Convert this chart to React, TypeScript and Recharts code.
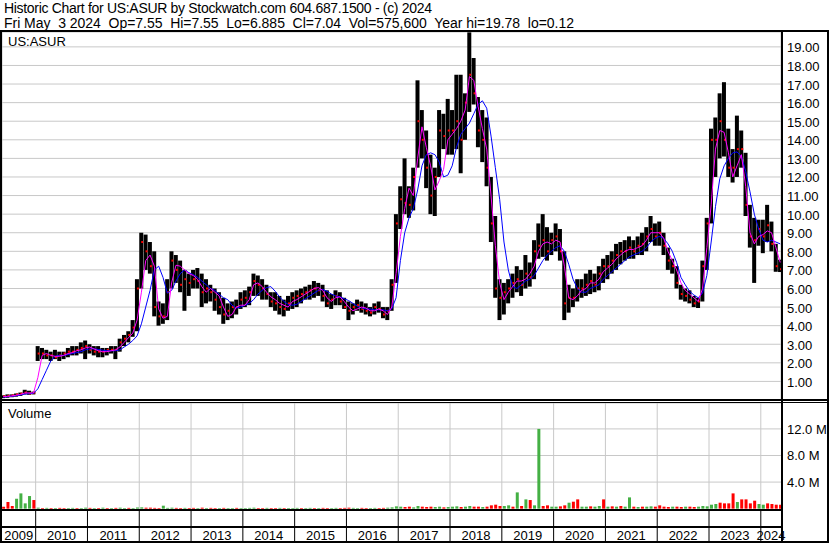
import React from "react";
import { ComposedChart, Bar, Line, XAxis, YAxis, CartesianGrid, Cell } from "recharts";

// monthly bars, first one is May 2009
const START_YEAR = 2009;
const START_MONTH = 4;

const high = [
  0.25, 0.3, 0.3, 0.35, 0.4, 0.55, 0.5, 0.45,
  2.9, 2.8, 2.7, 2.6, 2.7, 2.6, 2.6, 2.8, 2.9, 2.9, 3.1, 3.2,
  3.0, 2.9, 2.9, 2.8, 2.8, 2.9, 2.9, 3.3, 3.5, 3.7, 4.3, 6.5,
  9.0, 8.9, 8.5, 8.0, 5.3, 5.2, 6.5, 8.0, 7.8, 7.5, 7.0, 6.8,
  7.0, 7.1, 6.8, 6.5, 6.2, 6.0, 5.8, 5.5, 5.2, 5.3, 5.4, 5.8,
  5.9, 6.1, 6.8, 6.7, 6.5, 6.2, 5.8, 5.8, 5.6, 5.4, 5.6, 5.8,
  5.9, 6.0, 6.1, 6.2, 6.4, 6.3, 6.2, 5.9, 5.7, 5.9, 5.8, 5.5,
  5.3, 5.2, 5.4, 5.3, 5.2, 5.0, 5.2, 5.3, 5.0, 5.0, 6.5, 10.0,
  11.5, 13.0, 11.5, 12.5, 17.2, 15.6, 14.5, 13.2, 12.5, 15.6, 15.4, 16.2,
  15.6, 17.5, 17.5, 16.5, 19.78, 18.4, 16.3, 15.6, 15.2, 12.0, 9.9, 6.5,
  6.3, 6.5, 6.8, 7.2, 7.0, 7.8, 7.4, 8.6, 9.5, 10.0, 9.3, 9.0,
  9.5, 9.2, 8.0, 6.2, 6.0, 6.5, 6.5, 6.8, 7.0, 6.8, 7.2, 7.6,
  7.8, 8.0, 8.4, 8.5, 8.6, 8.8, 8.6, 8.8, 9.0, 9.3, 9.9, 9.5,
  9.6, 9.0, 8.2, 7.6, 7.2, 6.2, 6.0, 5.9, 5.6, 5.5, 7.5, 9.8,
  14.6, 15.2, 16.5, 17.1, 14.6, 13.5, 15.3, 14.5, 13.3, 10.5, 9.8, 9.7,
  9.7, 10.5, 9.6, 8.4, 7.55,
];

const low = [
  0.1, 0.12, 0.15, 0.18, 0.22, 0.3, 0.28, 0.3,
  2.1, 2.2, 2.2, 2.1, 2.2, 2.1, 2.2, 2.3, 2.4, 2.4, 2.5, 2.2,
  2.5, 2.4, 2.3, 2.3, 2.4, 2.5, 2.2, 2.6, 2.9, 3.1, 3.4, 3.7,
  6.0, 7.0, 6.8, 4.5, 4.0, 4.1, 4.3, 6.0, 6.3, 5.8, 4.8, 5.6,
  6.0, 6.0, 5.0, 5.2, 5.3, 4.8, 4.6, 4.1, 4.3, 4.4, 4.6, 4.9,
  5.0, 5.1, 5.6, 5.6, 5.4, 5.4, 5.0, 4.8, 4.6, 4.5, 4.8, 4.9,
  5.0, 5.2, 5.4, 5.4, 5.5, 5.6, 5.3, 5.0, 4.9, 5.1, 5.1, 4.9,
  4.3, 4.6, 4.8, 4.7, 4.6, 4.5, 4.6, 4.7, 4.4, 4.3, 4.8, 6.3,
  9.2, 10.0, 9.8, 10.2, 12.5, 13.0, 11.4, 10.0, 9.9, 12.0, 13.5, 13.2,
  13.2, 13.5, 12.2, 14.0, 15.5, 15.9, 13.6, 12.8, 11.5, 8.5, 5.5, 4.3,
  4.6, 5.2, 5.5, 5.8, 5.6, 6.0, 6.1, 6.5, 7.6, 7.7, 7.5, 7.8,
  8.0, 7.5, 4.3, 4.7, 5.0, 5.3, 5.5, 5.6, 5.7, 5.8, 5.9, 6.3,
  6.5, 6.8, 7.0, 7.3, 7.5, 7.6, 7.6, 7.8, 7.8, 8.0, 8.5, 8.3,
  8.3, 7.8, 7.0, 6.8, 6.0, 5.4, 5.3, 5.2, 5.0, 4.95, 5.3, 7.0,
  9.5, 12.0, 13.0, 13.1, 12.0, 11.7, 12.0, 12.5, 9.9, 8.2, 6.3, 8.3,
  7.9, 8.5, 8.0, 6.9, 6.885,
];

const close = [
  0.2, 0.22, 0.25, 0.3, 0.35, 0.4, 0.35, 0.4,
  2.5, 2.5, 2.4, 2.4, 2.3, 2.4, 2.5, 2.6, 2.6, 2.7, 2.8, 2.9,
  2.7, 2.6, 2.6, 2.6, 2.7, 2.7, 2.7, 3.1, 3.3, 3.5, 3.9, 6.0,
  8.5, 8.0, 7.2, 5.0, 4.5, 4.5, 5.8, 7.5, 7.0, 6.2, 6.5, 6.3,
  6.5, 6.4, 5.8, 6.0, 5.8, 5.4, 5.0, 4.6, 4.8, 5.0, 5.0, 5.4,
  5.5, 5.8, 6.4, 6.2, 6.0, 5.7, 5.3, 5.2, 5.0, 4.9, 5.2, 5.5,
  5.6, 5.7, 5.8, 5.9, 6.0, 5.9, 5.6, 5.2, 5.4, 5.6, 5.3, 5.0,
  4.8, 5.0, 5.1, 4.9, 4.8, 4.7, 5.0, 4.9, 4.6, 4.8, 6.2, 9.5,
  10.8, 10.6, 10.5, 12.0, 15.0, 14.0, 12.5, 11.0, 12.0, 14.5, 14.2, 14.5,
  14.5, 15.0, 14.0, 16.0, 17.5, 16.5, 14.5, 14.0, 12.5, 9.5, 6.0, 5.5,
  5.8, 6.0, 6.3, 6.5, 6.2, 6.8, 6.6, 8.0, 8.3, 8.6, 8.0, 8.6,
  8.8, 8.0, 5.2, 5.5, 5.5, 6.0, 6.0, 6.2, 6.4, 6.2, 6.8, 7.2,
  7.2, 7.5, 7.8, 8.0, 8.0, 8.2, 8.0, 8.3, 8.4, 8.8, 9.2, 8.8,
  9.0, 8.3, 7.5, 7.2, 6.3, 5.7, 5.6, 5.4, 5.2, 5.3, 7.2, 9.5,
  14.0, 14.0, 15.0, 14.0, 12.5, 12.5, 13.5, 13.5, 10.5, 8.8, 8.6, 9.2,
  8.8, 9.4, 8.4, 7.2, 7.04,
];

// magenta (short) moving average
const fastAvg = [
  0.18, 0.2, 0.22, 0.26, 0.3, 0.38, 0.38, 0.38,
  1.2, 2.4, 2.5, 2.4, 2.35, 2.35, 2.4, 2.5, 2.55, 2.65, 2.7, 2.8,
  2.85, 2.75, 2.65, 2.6, 2.6, 2.65, 2.7, 2.85, 3.1, 3.35, 3.6, 4.3,
  5.8, 7.5, 7.8, 7.2, 4.9, 4.4, 4.5, 6.3, 7.25, 7.2, 7.0, 6.8,
  6.7, 6.5, 6.1, 5.8, 6.0, 5.8, 5.6, 5.0, 4.5, 4.6, 5.0, 5.1,
  5.1, 5.4, 6.2, 6.3, 6.1, 5.8, 5.55, 5.4, 5.2, 5.1, 5.0, 5.3,
  5.4, 5.55, 5.7, 5.85, 6.0, 6.05, 5.9, 5.5, 5.3, 5.5, 5.55, 5.3,
  5.0, 4.8, 4.9, 5.0, 4.95, 4.8, 4.8, 4.9, 4.8, 4.6, 5.0, 6.8,
  8.8, 10.3, 11.4, 11.0, 13.0, 14.7, 13.6, 12.6, 11.3, 11.8, 12.4, 14.0,
  14.3, 14.6, 15.0, 15.6, 17.4, 17.2, 15.8, 14.6, 13.5, 11.0, 8.3, 6.3,
  5.4, 5.8, 6.1, 6.4, 6.4, 6.5, 6.8, 7.2, 8.0, 8.4, 8.5, 8.4,
  8.6, 8.5, 7.2, 5.5, 5.4, 5.6, 5.9, 6.0, 6.3, 6.3, 6.5, 6.9,
  7.1, 7.3, 7.6, 7.8, 8.0, 8.1, 8.1, 8.2, 8.3, 8.6, 9.0, 9.0,
  9.0, 8.7, 8.0, 7.5, 7.0, 6.3, 5.9, 5.7, 5.5, 5.3, 6.0, 8.2,
  10.5, 13.5, 14.5, 14.4, 13.3, 12.0, 12.6, 13.2, 11.5, 9.0, 8.4, 8.8,
  8.9, 9.1, 9.0, 8.2, 7.4,
];

// blue (long) moving average
const slowAvg = [
  0.15, 0.18, 0.2, 0.23, 0.27, 0.32, 0.34, 0.36,
  0.6, 1.1, 1.6, 2.1, 2.35, 2.4, 2.4, 2.45, 2.5, 2.55, 2.6, 2.7,
  2.75, 2.75, 2.72, 2.68, 2.65, 2.65, 2.65, 2.7, 2.85, 3.0, 3.2, 3.45,
  4.1, 5.0, 5.9, 7.0, 7.2, 6.6, 5.75, 5.9, 6.4, 6.8, 7.0, 6.85,
  6.75, 6.6, 6.4, 6.2, 6.0, 5.9, 5.7, 5.5, 5.4, 5.1, 4.95, 5.0,
  5.1, 5.2, 5.4, 5.7, 5.9, 6.05, 6.1, 5.85, 5.55, 5.3, 5.15, 5.1,
  5.15, 5.3, 5.45, 5.6, 5.75, 5.9, 5.95, 5.85, 5.7, 5.6, 5.55, 5.45,
  5.35, 5.2, 5.05, 4.95, 4.9, 4.9, 4.85, 4.85, 4.85, 4.8, 4.9, 5.5,
  7.5, 9.0, 9.8, 10.3, 11.3, 12.6, 13.2, 13.3, 13.2, 12.8, 12.0, 12.1,
  12.6, 13.6, 14.3, 14.6, 14.9, 15.4, 15.9, 16.1, 15.7, 14.2, 12.5, 10.8,
  8.5, 7.0, 6.1, 6.0, 6.2, 6.4, 6.5, 6.7, 7.1, 7.5, 7.8, 8.0,
  8.2, 8.3, 8.0, 7.3, 6.5, 6.0, 5.8, 5.8, 6.0, 6.1, 6.2, 6.5,
  6.7, 6.9, 7.1, 7.3, 7.5, 7.7, 7.8, 7.9, 8.0, 8.2, 8.5, 8.7,
  8.8, 8.7, 8.4, 8.0, 7.4, 6.6, 6.2, 5.85, 5.65, 5.5, 5.75, 6.7,
  8.5, 10.4, 11.9, 12.6, 13.0, 13.3, 13.35, 13.1, 12.3, 11.2, 10.0, 9.2,
  8.6, 8.5, 8.6, 8.5, 8.4,
];

// volume in millions of shares
const volume = [
  0.3, 1.0, 0.4, 1.5, 2.3, 0.8, 1.9, 1.3,
  0.15, 0.1, 0.12, 0.1, 0.1, 0.12, 0.1, 0.1, 0.12, 0.1, 0.1, 0.15,
  0.12, 0.1, 0.1, 0.15, 0.1, 0.1, 0.12, 0.15, 0.1, 0.12, 0.1, 0.18,
  0.2, 0.15, 0.15, 0.12, 0.1, 0.45, 0.12, 0.15, 0.12, 0.1, 0.12, 0.1,
  0.12, 0.1, 0.15, 0.1, 0.12, 0.1, 0.1, 0.12, 0.1, 0.1, 0.12, 0.1,
  0.1, 0.12, 0.15, 0.1, 0.1, 0.12, 0.1, 0.1, 0.12, 0.1, 0.1, 0.1,
  0.12, 0.1, 0.1, 0.12, 0.1, 0.1, 0.12, 0.1, 0.1, 0.12, 0.1, 0.12,
  0.15, 0.12, 0.1, 0.12, 0.1, 0.1, 0.12, 0.1, 0.12, 0.15, 0.2, 0.35,
  0.3, 0.25, 0.3, 0.2, 0.4, 0.3, 0.25, 0.3, 0.25, 0.3, 0.2, 0.25,
  0.3, 0.35, 0.25, 0.3, 0.4, 0.3, 0.3, 0.25, 0.3, 0.5, 0.6, 0.4,
  0.4, 0.5, 0.3, 2.45, 0.4, 1.4, 1.3, 0.5, 12.0, 0.4, 0.5, 0.3,
  0.3, 0.35, 0.5, 0.9, 1.05, 1.4, 0.3, 0.3, 0.35, 0.3, 0.4, 1.4,
  0.3, 0.35, 0.3, 0.4, 0.3, 1.7, 0.3, 0.25, 0.3, 0.3, 0.35, 0.3,
  0.5, 0.3, 0.25, 0.3, 0.3, 0.25, 0.3, 0.3, 0.25, 0.3, 0.4, 0.35,
  0.6, 0.7, 0.9, 0.8, 0.8, 2.3, 1.0, 1.4, 1.4, 0.8, 1.2, 0.7,
  0.6, 0.8, 0.7, 0.6, 0.58,
];

// 1 = up (green), 0 = down (red)
const volUp = [
  0, 0, 0, 1, 1, 1, 1, 0,
  1, 0, 1, 0, 1, 0, 0, 1, 1, 0, 1, 1,
  0, 1, 0, 1, 0, 1, 0, 1, 1, 0, 1, 1,
  1, 0, 0, 0, 0, 1, 1, 1, 0, 0, 1, 0,
  0, 1, 0, 1, 0, 0, 1, 0, 1, 1, 0, 1,
  1, 1, 1, 0, 0, 1, 0, 0, 1, 0, 1, 1,
  1, 0, 1, 1, 0, 1, 0, 0, 1, 1, 0, 0,
  0, 1, 1, 0, 0, 1, 1, 0, 0, 1, 1, 1,
  1, 0, 0, 1, 1, 0, 0, 0, 1, 1, 0, 1,
  1, 1, 0, 1, 1, 0, 0, 1, 0, 0, 0, 0,
  1, 1, 0, 1, 0, 1, 0, 1, 1, 0, 0, 1,
  1, 0, 0, 1, 0, 0, 1, 1, 0, 1, 1, 0,
  1, 0, 1, 0, 1, 1, 0, 1, 0, 1, 1, 0,
  0, 0, 0, 1, 0, 0, 1, 0, 0, 1, 1, 1,
  1, 1, 0, 0, 0, 0, 1, 0, 0, 0, 0, 1,
  1, 0, 0, 0, 0,
];

const years = [2009, 2010, 2011, 2012, 2013, 2014, 2015, 2016, 2017, 2018, 2019, 2020, 2021, 2022, 2023, 2024];
const priceTicks = [1, 2, 3, 4, 5, 6, 7, 8, 9, 10, 11, 12, 13, 14, 15, 16, 17, 18, 19];
const volTicks = [4, 8, 12];

const X0 = 2009.35;
const X1 = 2024.39;
const yearBounds = years.slice(1);
const labelTicks = years.map((y) => (Math.max(y, X0) + Math.min(y + 1, X1)) / 2);
// year boundaries (integers) draw separators, cell centres draw the year label
const axisTicks = [...yearBounds, ...labelTicks].sort((a, b) => a - b);

const data = high.map((h, i) => ({
  t: START_YEAR + (START_MONTH + i) / 12 + 1 / 24,
  high: h,
  low: low[i],
  close: close[i],
  fast: fastAvg[i],
  slow: slowAvg[i],
  vol: volume[i],
  up: volUp[i] === 1,
}));

const FONT = "'Liberation Sans', Arial, sans-serif";
const GRID = "#c8c8c8";

function OhlcBar(props: any) {
  const { x, y, width, height, payload } = props;
  if (x == null || y == null) return null;
  const top = Math.min(y, y + height);
  const h = Math.max(Math.abs(height), 1);
  const span = payload.high - payload.low || 1;
  const cy = top + ((payload.high - payload.close) / span) * h;
  return (
    <g>
      <rect x={x} y={top} width={width} height={h} fill="#000" />
      <rect x={x + width - 2} y={cy - 1} width={2} height={2} fill="#ff0000" />
    </g>
  );
}

function PriceTick({ x, y, payload }: any) {
  return (
    <text x={x} y={y} dy={5.5} fontSize={13} fontFamily={FONT} fill="#000" textAnchor="start">
      {payload.value.toFixed(2)}
    </text>
  );
}

function VolTick({ x, y, payload }: any) {
  return (
    <text x={x} y={y} dy={4.7} fontSize={13} fontFamily={FONT} fill="#000" textAnchor="start">
      {payload.value.toFixed(1) + " M"}
    </text>
  );
}

function YearAxisTick({ x, y, payload }: any) {
  const v = payload.value;
  if (Number.isInteger(v)) {
    return <rect x={x - 0.5} y={y} width={1} height={33} fill="#000" />;
  }
  return (
    <text x={x} y={y} dy={30} fontSize={13} fontFamily={FONT} fill="#000" textAnchor="middle">
      {String(Math.floor(v))}
    </text>
  );
}

export default function App() {
  return (
    <div style={{ position: "absolute", left: 0, top: 0, width: 830, height: 543, background: "#fff", overflow: "hidden" }}>
      <div style={{ position: "absolute", left: 0, top: 0 }}>
        <ComposedChart width={830} height={401} data={data} margin={{ top: 32, right: 0, bottom: 1, left: 2 }}>
          <CartesianGrid stroke={GRID} />
          <XAxis
            type="number"
            dataKey="t"
            domain={[X0, X1]}
            ticks={yearBounds}
            allowDataOverflow
            height={0}
            tick={false}
            axisLine={false}
            tickLine={false}
          />
          <YAxis
            orientation="right"
            width={49}
            domain={[0, 19.8]}
            ticks={priceTicks}
            allowDataOverflow
            interval={0}
            axisLine={false}
            tickLine={false}
            tickSize={0}
            tickMargin={6}
            tick={<PriceTick />}
          />
          <Bar dataKey={(d: any) => [d.low, d.high]} barSize={4} shape={OhlcBar} isAnimationActive={false} />
          <Line type="linear" dataKey="slow" stroke="#0000ff" strokeWidth={1} dot={false} isAnimationActive={false} />
          <Line type="linear" dataKey="fast" stroke="#ff00ff" strokeWidth={1} dot={false} isAnimationActive={false} />
        </ComposedChart>
      </div>

      <div style={{ position: "absolute", left: 0, top: 403 }}>
        <ComposedChart width={830} height={140} data={data} margin={{ top: 0, right: 0, bottom: 0, left: 2 }}>
          <CartesianGrid stroke={GRID} verticalValues={yearBounds} />
          <XAxis
            type="number"
            dataKey="t"
            domain={[X0, X1]}
            ticks={axisTicks}
            allowDataOverflow
            interval={0}
            height={33}
            axisLine={false}
            tickLine={false}
            tickSize={0}
            tickMargin={0}
            tick={<YearAxisTick />}
          />
          <YAxis
            orientation="right"
            width={49}
            domain={[-0.2, 15.9]}
            ticks={volTicks}
            allowDataOverflow
            interval={0}
            axisLine={false}
            tickLine={false}
            tickSize={0}
            tickMargin={6}
            tick={<VolTick />}
          />
          <Bar dataKey="vol" barSize={3} isAnimationActive={false}>
            {data.map((d, i) => (
              <Cell key={i} fill={d.up ? "#44b044" : "#ff0000"} />
            ))}
          </Bar>
        </ComposedChart>
      </div>

      <svg width={830} height={543} style={{ position: "absolute", left: 0, top: 0, pointerEvents: "none" }}>
        <g fontFamily={FONT} fontSize={14} fill="#000">
          <text x={4} y={13} textLength={428} lengthAdjust="spacing">
            Historic Chart for US:ASUR by Stockwatch.com 604.687.1500 - (c) 2024
          </text>
          <text x={4} y={27.5} textLength={570} lengthAdjust="spacing" style={{ whiteSpace: "pre" }}>
            {"Fri May  3 2024  Op=7.55  Hi=7.55  Lo=6.885  Cl=7.04  Vol=575,600  Year hi=19.78  lo=0.12"}
          </text>
        </g>
        <g fontFamily={FONT} fontSize={13} fill="#000">
          <text x={8} y={46}>US:ASUR</text>
          <text x={8} y={418}>Volume</text>
        </g>
        <g fill="#000">
          <rect x={0} y={30} width={829} height={2} />
          <rect x={0} y={30} width={2} height={513} />
          <rect x={827} y={30} width={2} height={513} />
          <rect x={0} y={541} width={829} height={2} />
          <rect x={781} y={30} width={2} height={513} />
          <rect x={0} y={399} width={829} height={2} />
          <rect x={0} y={402} width={829} height={1} />
          <rect x={0} y={509} width={782} height={2} />
          <rect x={0} y={526} width={782} height={2} />
        </g>
      </svg>
    </div>
  );
}
